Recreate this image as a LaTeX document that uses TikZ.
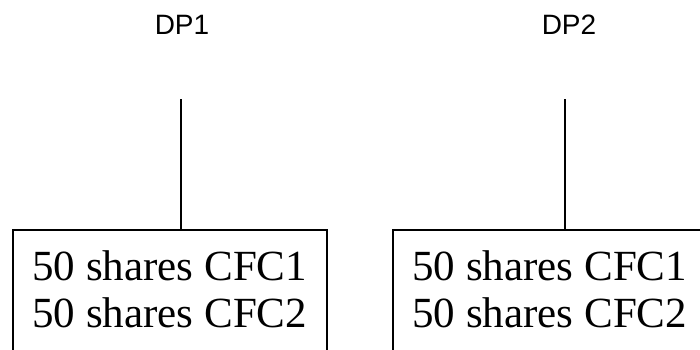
\documentclass[tikz,border=0pt]{standalone}
\usepackage{fontspec}
\setmainfont{Liberation Serif}
\setsansfont{Liberation Sans}
\usetikzlibrary{positioning}

\begin{document}
\begin{tikzpicture}[x=1pt, y=1pt,
    holder/.style = {font=\sffamily\fontsize{28}{30}\selectfont, inner sep=0pt},
    sharebox/.style = {shape=rectangle, draw, line width=1.5pt,
      align=left, anchor=north west, minimum width=314pt, minimum height=130pt,
      text depth=12pt, font=\fontsize{43}{47}\selectfont}]
    \useasboundingbox (0,0) rectangle (700,-349);
    \clip (0,0) rectangle (700,-349);
    \node[holder] (dp1) at (182,-24.5) {DP1};
    \node[holder] (dp2) at (569,-24.5) {DP2};
    \node[sharebox] (box1) at (12,-229) {50 shares CFC1\\50 shares CFC2};
    \node[sharebox] (box2) at (392,-229) {50 shares CFC1\\50 shares CFC2};
    \coordinate (top1) at (181,-99);
    \coordinate (top2) at (565,-99);
    \draw[line width=1.2pt] (top1) -- (top1 |- box1.north);
    \draw[line width=1.2pt] (top2) -- (top2 |- box2.north);
  \end{tikzpicture}
\end{document}
